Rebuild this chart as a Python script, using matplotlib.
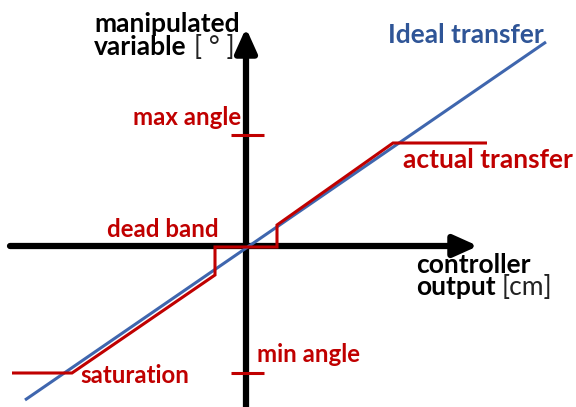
import matplotlib
matplotlib.use("Agg")
import matplotlib.pyplot as plt
import numpy as np

# ---- data (origin at axis crossing) ----
ideal_x = [-221, 300]
ideal_y = [-154, 204]

actual_x = [-234, -174, -31, -31, 31, 31, 147, 241]
actual_y = [-127, -127, -29, -1, -1, 21, 103, 103]

angle_tick_y = [111, -127]     # max angle, min angle
angle_tick_x = [-15, 18]

x_axis_ext = [-236, 232]
y_axis_ext = [-161, 218]

RED = "#C00000"
BLUE_TXT = "#2F5597"
BLUE_LN = "#3F66AE"
FONT = "Lato"

W, H = 576, 407
OX, OY = 246, 246

fig = plt.figure(figsize=(W / 100, H / 100), dpi=100)
ax = fig.add_axes([0, 0, 1, 1])
ax.set_xlim(-OX, W - OX)
ax.set_ylim(OY - H, OY)
ax.axis("off")


def P(px, py):
    return px - OX, OY - py


# axes arrows
arrow_style = "-|>,head_length=1.0,head_width=0.45"
ax.annotate("", xy=(x_axis_ext[1], 0), xytext=(x_axis_ext[0], 0),
            arrowprops=dict(arrowstyle=arrow_style, lw=4.5, color="black",
                            mutation_scale=14.4, shrinkA=0, shrinkB=0))
ax.annotate("", xy=(0, y_axis_ext[1]), xytext=(0, y_axis_ext[0]),
            arrowprops=dict(arrowstyle=arrow_style, lw=4.5, color="black",
                            mutation_scale=14.4, shrinkA=0, shrinkB=0))

# angle ticks
for ty in angle_tick_y:
    ax.plot(angle_tick_x, [ty, ty], color=RED, lw=2.2, solid_capstyle="butt", zorder=3)

# ideal and actual transfer
ax.plot(ideal_x, ideal_y, color=BLUE_LN, lw=2.2, zorder=4, solid_capstyle="butt")
ax.plot(actual_x, actual_y, color=RED, lw=2.2, zorder=5, solid_capstyle="butt",
        solid_joinstyle="miter")

FS = 19
FS_S = 17.3


def txt(px, py, s, color="black", weight="bold", ha="left", fs=FS):
    x, y = P(px, py)
    ax.text(x, y, s, color=color, fontsize=fs, fontweight=weight, ha=ha,
            va="baseline", family=FONT, zorder=6)


txt(240, 32, "manipulated", ha="right")
txt(186, 55, "variable", ha="right")
txt(194, 55, "[ ° ]", weight="normal", color="#222222")
txt(388, 43, "Ideal transfer", color=BLUE_TXT)
txt(241, 125, "max angle", color=RED, ha="right", fs=FS_S)
txt(403, 168, "actual transfer", color=RED)
txt(107, 237, "dead band", color=RED, fs=FS_S)
txt(416, 273, "controller")
txt(416, 295, "output")
txt(502, 295, "[cm]", weight="normal", color="#222222")
txt(257, 362, "min angle", color=RED, fs=FS_S)
txt(80, 383, "saturation", color=RED, fs=FS_S)

fig.savefig("out.png", dpi=100)
